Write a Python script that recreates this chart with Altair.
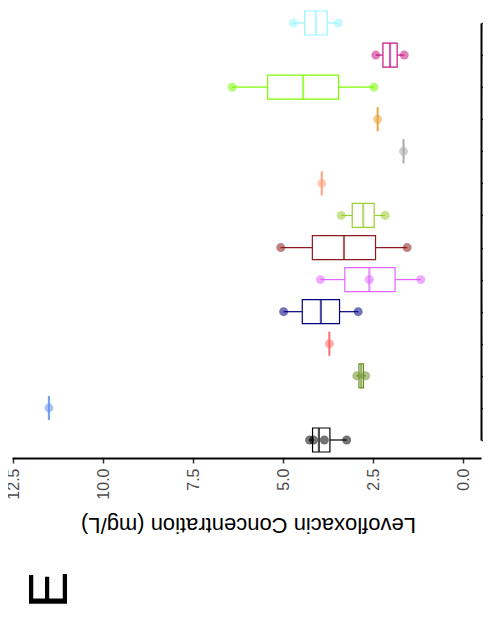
import altair as alt
import pandas as pd

# Categories listed top-to-bottom as they appear in the (rotated) figure
groups = ["G14", "G13", "G12", "G11", "G10", "G9", "G8", "G7",
          "G6", "G5", "G4", "G3", "G2", "G1"]
colors = ["#98F5FF", "#C71585", "#7CFC00", "#E8A33D", "#A9A9A9", "#FFA07A",
          "#9ACD32", "#8B1A1A", "#E066FF", "#000080", "#FF6A6A", "#6B8E23",
          "#6495ED", "#000000"]
values = [
    [4.72, 3.47],
    [2.43, 1.64],
    [6.42, 2.48],
    [2.38],
    [1.66],
    [3.93],
    [3.39, 2.17],
    [5.07, 1.56],
    [3.97, 2.61, 1.18],
    [4.99, 2.92],
    [3.72],
    [2.96, 2.71],
    [11.51],
    [4.27, 4.16, 3.86, 3.24],
]
x_ticks = [0.0, 2.5, 5.0, 7.5, 10.0, 12.5]
x_title = "Levofloxacin Concentration (mg/L)"
panel_label = ["E"]

rows = [{"group": g, "conc": v} for g, vs in zip(groups, values) for v in vs]
df = pd.DataFrame(rows)
label_df = pd.DataFrame({"label": panel_label})

FONT = "Liberation Sans"

x_scale = alt.Scale(domain=[-0.492, 12.536], reverse=True, nice=False, zero=False)
y_scale = alt.Scale(type="point", domain=groups, range=[15, 432], padding=0)
c_scale = alt.Scale(domain=groups, range=colors)

x_axis = alt.Axis(
    values=x_ticks, format=".1f", grid=False,
    domainColor="black", domainWidth=2,
    tickColor="#333333", tickWidth=1.5, tickSize=5,
    labelAngle=270, labelAlign="right", labelBaseline="middle",
    labelFontSize=16, labelColor="#4D4D4D", labelFont=FONT, labelPadding=5,
    title=x_title, titleFont=FONT, titleFontSize=22, titleFontWeight="normal",
    titleColor="black", titleAngle=180, titleBaseline="middle",
    titleAlign="center", titleX=236, titleY=66,
)
y_axis = alt.Axis(
    orient="right", labels=False, title=None, grid=False,
    domainColor="black", domainWidth=2,
    tickColor="#333333", tickWidth=1.5, tickSize=7,
)

base = alt.Chart(df).transform_aggregate(
    vmin="min(conc)", q1="q1(conc)", med="median(conc)",
    q3="q3(conc)", vmax="max(conc)", groupby=["group"],
)

y_enc = alt.Y("group:N", scale=y_scale, axis=y_axis)
color_enc = alt.Color("group:N", scale=c_scale, legend=None)

whisk_lo = base.mark_rule(strokeWidth=1.2).encode(
    x=alt.X("vmin:Q", scale=x_scale, axis=x_axis), x2="q1:Q", y=y_enc, color=color_enc)
whisk_hi = base.mark_rule(strokeWidth=1.2).encode(
    x=alt.X("q3:Q", scale=x_scale, axis=x_axis), x2="vmax:Q", y=y_enc, color=color_enc)
box = base.mark_bar(size=24, fill="white", strokeWidth=1.2).encode(
    x=alt.X("q1:Q", scale=x_scale, axis=x_axis), x2="q3:Q", y=y_enc,
    stroke=alt.Stroke("group:N", scale=c_scale, legend=None))
median = base.mark_tick(size=24, thickness=2.2).encode(
    x=alt.X("med:Q", scale=x_scale, axis=x_axis), y=y_enc, color=color_enc)
points = alt.Chart(df).mark_circle(size=80, opacity=0.55).encode(
    x=alt.X("conc:Q", scale=x_scale, axis=x_axis), y=y_enc, color=color_enc)
label = alt.Chart(label_df).mark_text(
    angle=270, fontSize=55, font=FONT, color="black", align="center", baseline="middle"
).encode(x=alt.value(38), y=alt.value(582), text="label:N")

chart = alt.layer(whisk_lo, whisk_hi, box, median, points, label).properties(
    width=469, height=450,
    autosize=alt.AutoSizeParams(type="none"),
    padding={"left": 4, "top": 0, "right": 2, "bottom": 147},
).configure_view(stroke=None)

chart.save("out.html", embed_options={"renderer": "svg", "actions": False})
